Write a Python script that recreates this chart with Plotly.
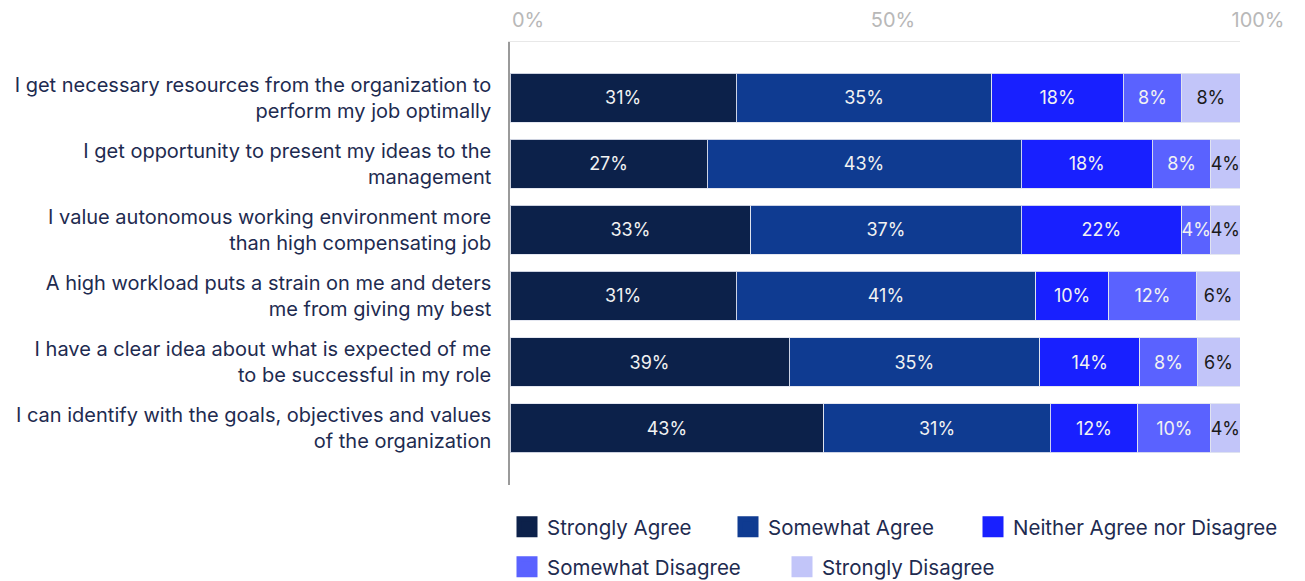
import plotly.graph_objects as go

# Survey statements (top to bottom)
statements = [
    "I get necessary resources from the organization to<br>perform my job optimally",
    "I get opportunity to present my ideas to the<br>management",
    "I value autonomous working environment more<br>than high compensating job",
    "A high workload puts a strain on me and deters<br>me from giving my best",
    "I have a clear idea about what is expected of me<br>to be successful in my role",
    "I can identify with the goals, objectives and values<br>of the organization",
]

responses = [
    "Strongly Agree",
    "Somewhat Agree",
    "Neither Agree nor Disagree",
    "Somewhat Disagree",
    "Strongly Disagree",
]

# Percent of respondents per statement, one list per response option
strongly_agree = [31, 27, 33, 31, 39, 43]
somewhat_agree = [35, 43, 37, 41, 35, 31]
neither = [18, 18, 22, 10, 14, 12]
somewhat_disagree = [8, 8, 4, 12, 8, 10]
strongly_disagree = [8, 4, 4, 6, 6, 4]

series = [strongly_agree, somewhat_agree, neither, somewhat_disagree, strongly_disagree]
colors = ["#0c214a", "#0f3b91", "#1820ff", "#5a62ff", "#c2c5f9"]
text_colors = ["#f2f2f2", "#f2f2f2", "#f2f2f2", "#f2f2f2", "#1a1a1a"]

tick_vals = [0, 50, 100]
tick_text = ["0%", "50%", "100%"]

FONT = "Inter"
NAVY = "#1e2b50"

fig = go.Figure()

for name, vals, col, tcol in zip(responses, series, colors, text_colors):
    fig.add_trace(go.Bar(
        y=statements,
        x=vals,
        orientation="h",
        name=name,
        marker=dict(color=col, line=dict(color="rgba(225,228,240,0.9)", width=1)),
        text=vals,
        texttemplate="%{text}%",
        textposition="inside",
        insidetextanchor="middle",
        constraintext="none",
        textangle=0,
        textfont=dict(family=FONT, size=18, color=tcol),
        showlegend=False,
        hoverinfo="skip",
    ))

# Legend entries, each in its own legend box so the layout flows in two rows
legend_pos = [
    ("legend", 510, 527),
    ("legend2", 731, 527),
    ("legend3", 976, 527),
    ("legend4", 510, 567),
    ("legend5", 785, 567),
]

PLOT_L, PLOT_R, PLOT_T, PLOT_B = 510, 1240, 42, 485
W, H = 1305, 581


def px_to_paper(px, py):
    return (px - PLOT_L) / (PLOT_R - PLOT_L), (PLOT_B - py) / (PLOT_B - PLOT_T)


legend_layouts = {}
for (lg, px, py), name, col in zip(legend_pos, responses, colors):
    fig.add_trace(go.Scatter(
        x=[None], y=[None], mode="markers", name=name, legend=lg,
        marker=dict(symbol="square", size=16, color=col, line=dict(color=col, width=5)),
        hoverinfo="skip",
    ))
    lx, ly = px_to_paper(px - 3, py)
    legend_layouts[lg] = dict(
        x=lx, y=ly, xanchor="left", yanchor="middle",
        orientation="h", bgcolor="rgba(0,0,0,0)",
        font=dict(family=FONT, size=20.5, color=NAVY),
        itemclick=False, itemdoubleclick=False,
    )

fig.update_layout(
    width=W, height=H,
    margin=dict(l=PLOT_L, r=W - PLOT_R, t=PLOT_T, b=H - PLOT_B, pad=0, autoexpand=False),
    barmode="stack",
    barnorm="percent",
    bargap=0.26,
    plot_bgcolor="white",
    paper_bgcolor="white",
    font=dict(family=FONT, color=NAVY),
    xaxis=dict(
        side="top",
        range=[0, 100],
        tickvals=tick_vals,
        ticktext=tick_text,
        showgrid=False,
        zeroline=False,
        showline=True,
        linecolor="#e8e8e8",
        linewidth=1,
        ticks="",
        tickfont=dict(family=FONT, size=20, color="#b8b8b8"),
        ticklabelshift=18,
        ticklabelstandoff=6,
        fixedrange=True,
    ),
    yaxis=dict(
        range=[5.86, -0.84],
        showgrid=False,
        zeroline=False,
        showline=True,
        linecolor="#9a9a9a",
        linewidth=1.5,
        ticks="",
        tickfont=dict(family=FONT, size=20, color=NAVY),
        ticklabelstandoff=13,
        fixedrange=True,
    ),
    **legend_layouts,
)

fig.write_html("out.html")
